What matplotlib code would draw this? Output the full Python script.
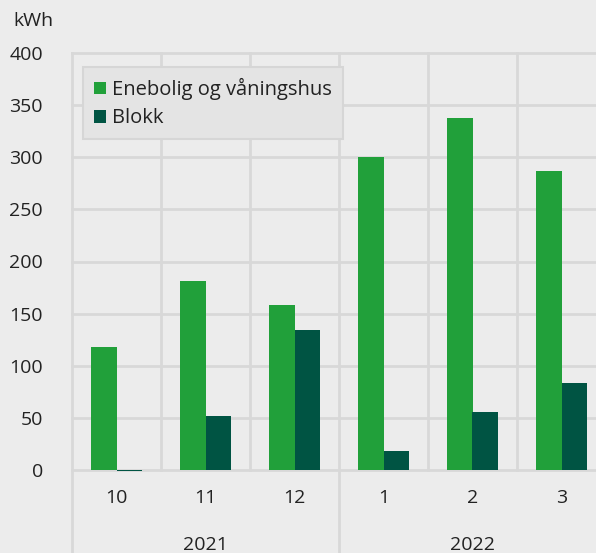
import numpy as np
import matplotlib
matplotlib.use("Agg")
import matplotlib.pyplot as plt

months = ["10", "11", "12", "1", "2", "3"]
years = ["2021", "2022"]
enebolig = [118, 181, 158, 300, 338, 287]
blokk = [-1, 52, 134, 18, 56, 83]
series_names = ["Enebolig og våningshus", "Blokk"]
yticks = [0, 50, 100, 150, 200, 250, 300, 350, 400]


def main():
    plt.rcParams['font.family'] = ['Open Sans', 'DejaVu Sans']
    bg = "#ececec"
    grid = "#d8d8d8"
    txt = "#222222"
    green = "#21a03a"
    dark = "#005443"

    fig = plt.figure(figsize=(5.96, 5.53), dpi=100, facecolor=bg)
    # plot area runs a little past the right edge of the picture
    ax = fig.add_axes([72 / 596, 83 / 553, 534 / 596, 417 / 553], facecolor=bg)

    x = np.arange(len(months))
    w = 0.29
    ax.bar(x - w / 2, enebolig, w, color=green, label=series_names[0], zorder=3, clip_on=False)
    ax.bar(x + w / 2, blokk, w, color=dark, label=series_names[1], zorder=3, clip_on=False)

    ax.set_xlim(-0.5, 5.5)
    ax.set_ylim(0, 400)
    for s in ax.spines.values():
        s.set_visible(False)

    # horizontal grid
    for yv in yticks:
        ax.plot([-0.5, 5.5], [yv, yv], color=grid, lw=2, zorder=1, clip_on=False)
    # vertical grid: short between months, long at year boundaries
    for xv in [0.5, 1.5, 3.5, 4.5]:
        ax.plot([xv, xv], [0, 400], color=grid, lw=2, zorder=1, clip_on=False)
    for xv in [-0.5, 2.5]:
        ax.plot([xv, xv], [-85, 400], color=grid, lw=2, zorder=1, clip_on=False)

    ax.set_yticks(yticks)
    ax.set_yticklabels([str(v) for v in yticks], fontsize=14, color=txt)
    ax.tick_params(axis='y', length=0, pad=21)
    ax.set_xticks([])

    for xi, m in zip(x, months):
        ax.text(xi, -27, m, ha='center', va='center', fontsize=14, color=txt)
    ax.text(1, -72, years[0], ha='center', va='center', fontsize=14, color=txt)
    ax.text(4, -72, years[1], ha='center', va='center', fontsize=14, color=txt)

    fig.text(33 / 596, 1 - 21 / 553, "kWh", ha='center', va='center', fontsize=14, color=txt)

    leg = ax.legend(loc='upper left', bbox_to_anchor=(11 / 534, 1 - 14 / 417),
                    borderaxespad=0, fontsize=14.5, frameon=True, fancybox=False,
                    facecolor="#e4e4e4", edgecolor="#d6d6d6", framealpha=1,
                    handlelength=0.6, handleheight=0.6, handletextpad=0.3,
                    borderpad=0.55, labelspacing=0.4, labelcolor=txt)
    leg.get_frame().set_linewidth(1.5)
    leg.set_zorder(5)

    fig.savefig("out.png", dpi=100, facecolor=bg)


if __name__ == "__main__":
    main()
